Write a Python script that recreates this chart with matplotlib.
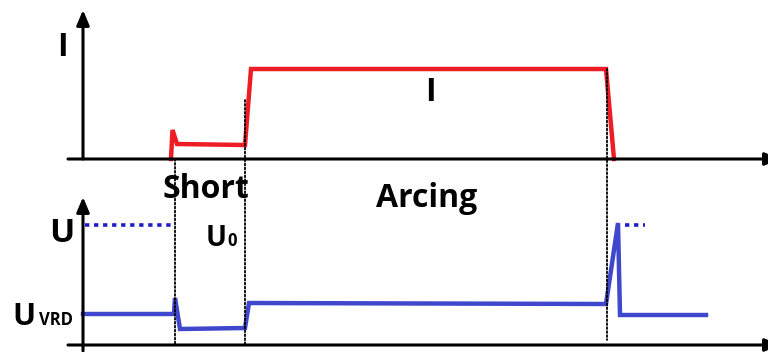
import matplotlib
matplotlib.use("Agg")
import matplotlib.pyplot as plt
from matplotlib.patches import ConnectionPatch, FancyArrowPatch

# ---- data (time in arbitrary units, amplitudes in arbitrary units) ----
t_current = [88, 89.5, 94, 162, 168, 523, 531]
current = [0, 29, 15, 14, 90, 90, 0]

t_voltage = [0, 91, 92, 97, 162, 166, 523, 535, 537, 623]
voltage = [31, 31, 47, 16, 17, 42, 41, 122, 30, 30]

t_u_left = [2, 89]
t_u_right = [542, 562]
u_open = 120

event_times = [92, 162, 524]
event_top = [0, 59, 90]
event_bottom = [0, 0, 5]

RED = "#ee1c25"
BLUE = "#3f48cc"
DBLUE = "#1e1ec8"
FONT = "Open Sans"

W, H = 768, 352
fig = plt.figure(figsize=(W / 100, H / 100), dpi=100)
fig.patch.set_facecolor("white")

ax_top = fig.add_axes([68 / W, (H - 159) / H, 700 / W, 149 / H])
ax_bot = fig.add_axes([68 / W, (H - 345) / H, 700 / W, 148 / H])
for ax, ytop in ((ax_top, 149), (ax_bot, 148)):
    ax.set_xlim(-15, 685)
    ax.set_ylim(0, ytop)
    ax.axis("off")

def arrow(ax, p0, p1):
    a = FancyArrowPatch(p0, p1, arrowstyle="-|>,head_length=0.9,head_width=0.38",
                        mutation_scale=10, lw=2.2, color="black",
                        transform=ax.transData, clip_on=False, shrinkA=0, shrinkB=0,
                        zorder=5)
    ax.add_patch(a)

# axes arrows
arrow(ax_top, (-15, 0), (697, 0))
arrow(ax_top, (0, 0), (0, 149))
arrow(ax_bot, (-15, 0), (697, 0))
arrow(ax_bot, (0, -6), (0, 148))

# event dotted lines
for t, yt, yb in zip(event_times, event_top, event_bottom):
    cp = ConnectionPatch(xyA=(t, yt), coordsA=ax_top.transData,
                         xyB=(t, yb), coordsB=ax_bot.transData,
                         linestyle=(0, (1, 1.2)), lw=1.3, color="black", zorder=1)
    fig.add_artist(cp)

# curves
ax_top.plot(t_current, current, color=RED, lw=3.2, solid_joinstyle="miter",
            clip_on=False, zorder=3)
ax_bot.plot(t_voltage, voltage, color=BLUE, lw=3.2, solid_joinstyle="miter",
            clip_on=False, zorder=3)
ax_bot.plot(t_u_left, [u_open] * 2, color=DBLUE, lw=2.6,
            linestyle=(0, (1.2, 1.3)), clip_on=False)
ax_bot.plot(t_u_right, [u_open] * 2, color=DBLUE, lw=2.6,
            linestyle=(0, (1.2, 1.3)), clip_on=False)

def ftext(px, py, s, size, ha="center"):
    fig.text(px / W, 1 - py / H, s, fontsize=size, fontweight="bold",
             family=FONT, ha=ha, va="baseline", color="black")

ftext(62, 56, "I", 23)
ftext(430, 101, "I", 23)
ftext(206, 198, "Short", 23)
ftext(427, 207, "Arcing", 23)
ftext(62, 242, "U", 24)
ftext(206, 246, "U", 20, ha="left")
ftext(227, 246, "0", 12, ha="left")
ftext(12, 325, "U", 22, ha="left")
ftext(39, 325, "VRD", 12, ha="left")

fig.savefig("out.png", dpi=100, facecolor="white")
